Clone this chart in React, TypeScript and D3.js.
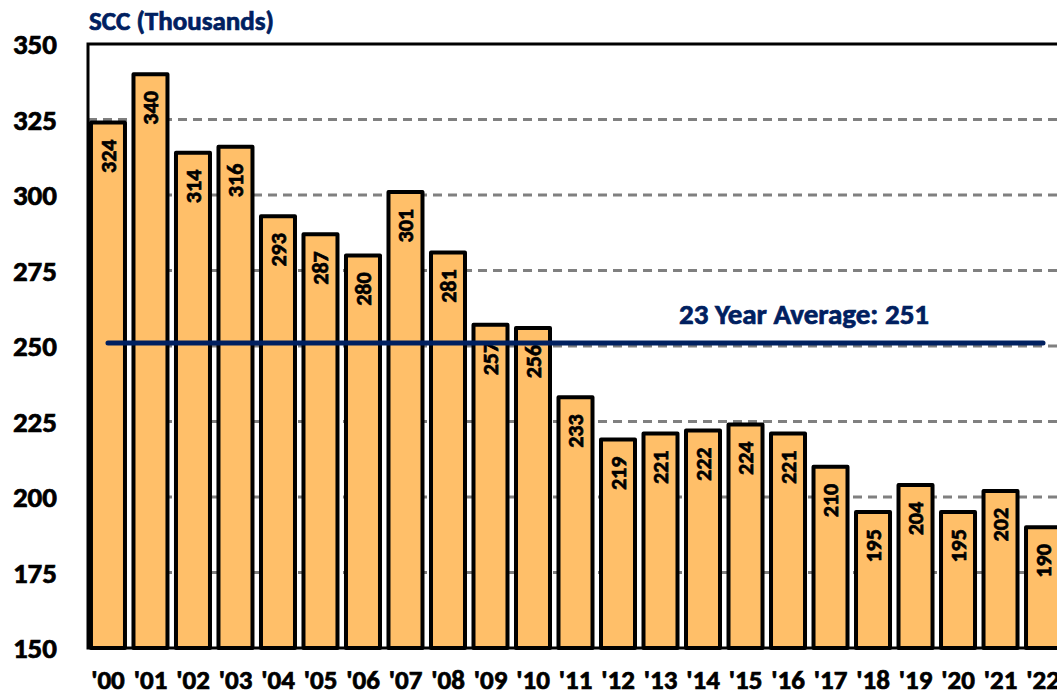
import React from "react";
import * as d3 from "d3";

const years = ["'00", "'01", "'02", "'03", "'04", "'05", "'06", "'07", "'08", "'09", "'10", "'11", "'12", "'13", "'14", "'15", "'16", "'17", "'18", "'19", "'20", "'21", "'22"];
const scc = [324, 340, 314, 316, 293, 287, 280, 301, 281, 257, 256, 233, 219, 221, 222, 224, 221, 210, 195, 204, 195, 202, 190];
const yTicks = [150, 175, 200, 225, 250, 275, 300, 325, 350];
const average = 251;

const FONT = "Calibri, Carlito, Lato, 'Open Sans', sans-serif";
const NAVY = "#002060";

const App = () => {
  const width = 1057;
  const height = 696;
  const margin = { top: 44, left: 88, bottom: 48 };
  const plotRight = 1063;

  const xScale = d3
    .scaleBand<string>()
    .domain(years)
    .range([margin.left, plotRight])
    .paddingInner(0.2)
    .paddingOuter(0.07);

  const yScale = d3
    .scaleLinear()
    .domain([150, 350])
    .range([height - margin.bottom, margin.top]);

  const bw = xScale.bandwidth();
  const first = (xScale(years[0]) as number) + bw / 2;
  const last = (xScale(years[years.length - 1]) as number) + bw / 2;

  // thin outline to make Lato bold look as heavy as Calibri bold
  const heavy = (c: string) => ({ fill: c, stroke: c, strokeWidth: 0.7 });

  return (
    <svg
      width={width}
      height={height}
      style={{ position: "absolute", left: 0, top: 0, background: "white" }}
      fontFamily={FONT}
      fontWeight="bold"
    >
      <text x={89} y={30} fontSize={27} {...heavy(NAVY)}>
        SCC (Thousands)
      </text>

      <g className="grid">
        {yTicks.slice(1, -1).map((t) => (
          <line
            key={t}
            x1={margin.left}
            x2={plotRight}
            y1={yScale(t)}
            y2={yScale(t)}
            stroke="#808080"
            strokeWidth={3}
            strokeDasharray="9,6"
          />
        ))}
      </g>

      {yTicks.map((t) => (
        <text
          key={t}
          x={57}
          y={yScale(t)}
          dy="0.35em"
          textAnchor="end"
          fontSize={29}
          {...heavy("#000")}
        >
          {t}
        </text>
      ))}

      <g className="bars">
        {scc.map((v, i) => (
          <rect
            key={years[i]}
            x={xScale(years[i])}
            y={yScale(v)}
            width={bw}
            height={yScale(150) - yScale(v)}
            fill="#FFBF69"
            stroke="#000"
            strokeWidth={4}
            strokeLinejoin="round"
          />
        ))}
      </g>

      <g className="labels">
        {scc.map((v, i) => {
          const cx = (xScale(years[i]) as number) + bw / 2;
          const ty = yScale(v) + 17;
          return (
            <text
              key={years[i]}
              transform={`translate(${cx},${ty})rotate(-90)`}
              textAnchor="end"
              dy="0.36em"
              fontSize={22}
              {...heavy("#000")}
            >
              {v}
            </text>
          );
        })}
      </g>

      {years.map((y) => (
        <text
          key={y}
          x={(xScale(y) as number) + bw / 2}
          y={689}
          textAnchor="middle"
          fontSize={27}
          {...heavy("#000")}
        >
          {y}
        </text>
      ))}

      <rect
        x={margin.left}
        y={margin.top}
        width={plotRight - margin.left + 10}
        height={yScale(150) - margin.top}
        fill="none"
        stroke="#000"
        strokeWidth={3}
      />

      <line
        x1={first}
        x2={last}
        y1={yScale(average)}
        y2={yScale(average)}
        stroke={NAVY}
        strokeWidth={5}
        strokeLinecap="round"
      />
      <text x={804} y={324} textAnchor="middle" fontSize={29} {...heavy(NAVY)}>
        23 Year Average: {average}
      </text>
    </svg>
  );
};

export default App;
